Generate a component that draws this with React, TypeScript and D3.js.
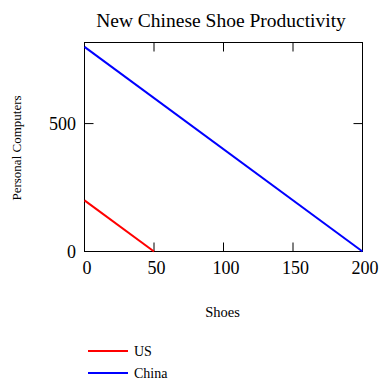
import React, { useEffect, useRef } from 'react';
import * as d3 from 'd3';

// data
const title = 'New Chinese Shoe Productivity';
const xLabel = 'Shoes';
const yLabel = 'Personal Computers';
const seriesNames = ['US', 'China'];
const seriesColors = ['#ff0000', '#0000ff'];
const usShoes = [0, 50];
const usComputers = [200, 0];
const chinaShoes = [0, 200];
const chinaComputers = [800, 0];
const xTicks = [0, 50, 100, 150, 200];
const yTicks = [0, 500];

const App = () => {
  const ref = useRef<SVGSVGElement>(null);

  useEffect(() => {
    const svg = d3.select(ref.current);
    svg.selectAll('*').remove();

    const left = 84.5;
    const right = 362.5;
    const top = 42.5;
    const bottom = 251.5;
    const font = '"Liberation Serif", "Times New Roman", serif';

    const x = d3.scaleLinear().domain([0, 200]).range([left, right]);
    const y = d3.scaleLinear().domain([0, 817]).range([bottom, top]);

    // frame
    svg.append('rect')
      .attr('x', left).attr('y', top)
      .attr('width', right - left).attr('height', bottom - top)
      .attr('fill', 'none').attr('stroke', '#000').attr('stroke-width', 1);

    // inward ticks on all sides
    const tickLen = 9;
    xTicks.slice(1, -1).forEach((t) => {
      svg.append('line').attr('x1', x(t)).attr('x2', x(t))
        .attr('y1', bottom).attr('y2', bottom - tickLen).attr('stroke', '#000');
      svg.append('line').attr('x1', x(t)).attr('x2', x(t))
        .attr('y1', top).attr('y2', top + tickLen).attr('stroke', '#000');
    });
    yTicks.slice(1).forEach((t) => {
      svg.append('line').attr('x1', left).attr('x2', left + tickLen)
        .attr('y1', y(t)).attr('y2', y(t)).attr('stroke', '#000');
      svg.append('line').attr('x1', right).attr('x2', right - tickLen)
        .attr('y1', y(t)).attr('y2', y(t)).attr('stroke', '#000');
    });

    // tick labels
    svg.selectAll('.xt').data(xTicks).enter().append('text')
      .attr('x', (d) => x(d) + 2.5).attr('y', 274)
      .attr('text-anchor', 'middle')
      .style('font-family', font).style('font-size', '18px')
      .text((d) => d);
    svg.selectAll('.yt').data(yTicks).enter().append('text')
      .attr('x', 76).attr('y', (d) => y(d) + 6)
      .attr('text-anchor', 'end')
      .style('font-family', font).style('font-size', '18px')
      .text((d) => d);

    // lines
    const line = d3.line<[number, number]>()
      .x((d) => x(d[0]))
      .y((d) => y(d[1]));
    const series = [
      d3.zip(usShoes, usComputers) as [number, number][],
      d3.zip(chinaShoes, chinaComputers) as [number, number][],
    ];
    series.forEach((s, i) => {
      svg.append('path').datum(s)
        .attr('fill', 'none')
        .attr('stroke', seriesColors[i])
        .attr('stroke-width', 2)
        .attr('d', line);
    });

    // title and axis labels
    svg.append('text')
      .attr('x', 221).attr('y', 27)
      .attr('text-anchor', 'middle')
      .style('font-family', font).style('font-size', '19.5px')
      .text(title);
    svg.append('text')
      .attr('x', 222.5).attr('y', 317)
      .attr('text-anchor', 'middle')
      .style('font-family', font).style('font-size', '14.5px')
      .text(xLabel);
    svg.append('text')
      .attr('transform', 'translate(21,148) rotate(-90)')
      .attr('text-anchor', 'middle')
      .style('font-family', font).style('font-size', '13px')
      .text(yLabel);

    // legend
    seriesNames.forEach((name, i) => {
      const ly = 351 + i * 22;
      svg.append('line')
        .attr('x1', 88).attr('x2', 128)
        .attr('y1', ly).attr('y2', ly)
        .attr('stroke', seriesColors[i]).attr('stroke-width', 2);
      svg.append('text')
        .attr('x', 134).attr('y', ly + 5)
        .style('font-family', font).style('font-size', '14px')
        .text(name);
    });
  }, []);

  return (
    <svg
      ref={ref}
      width={391}
      height={387}
      style={{ position: 'absolute', left: 0, top: 0, background: '#fff' }}
    />
  );
};

export default App;
